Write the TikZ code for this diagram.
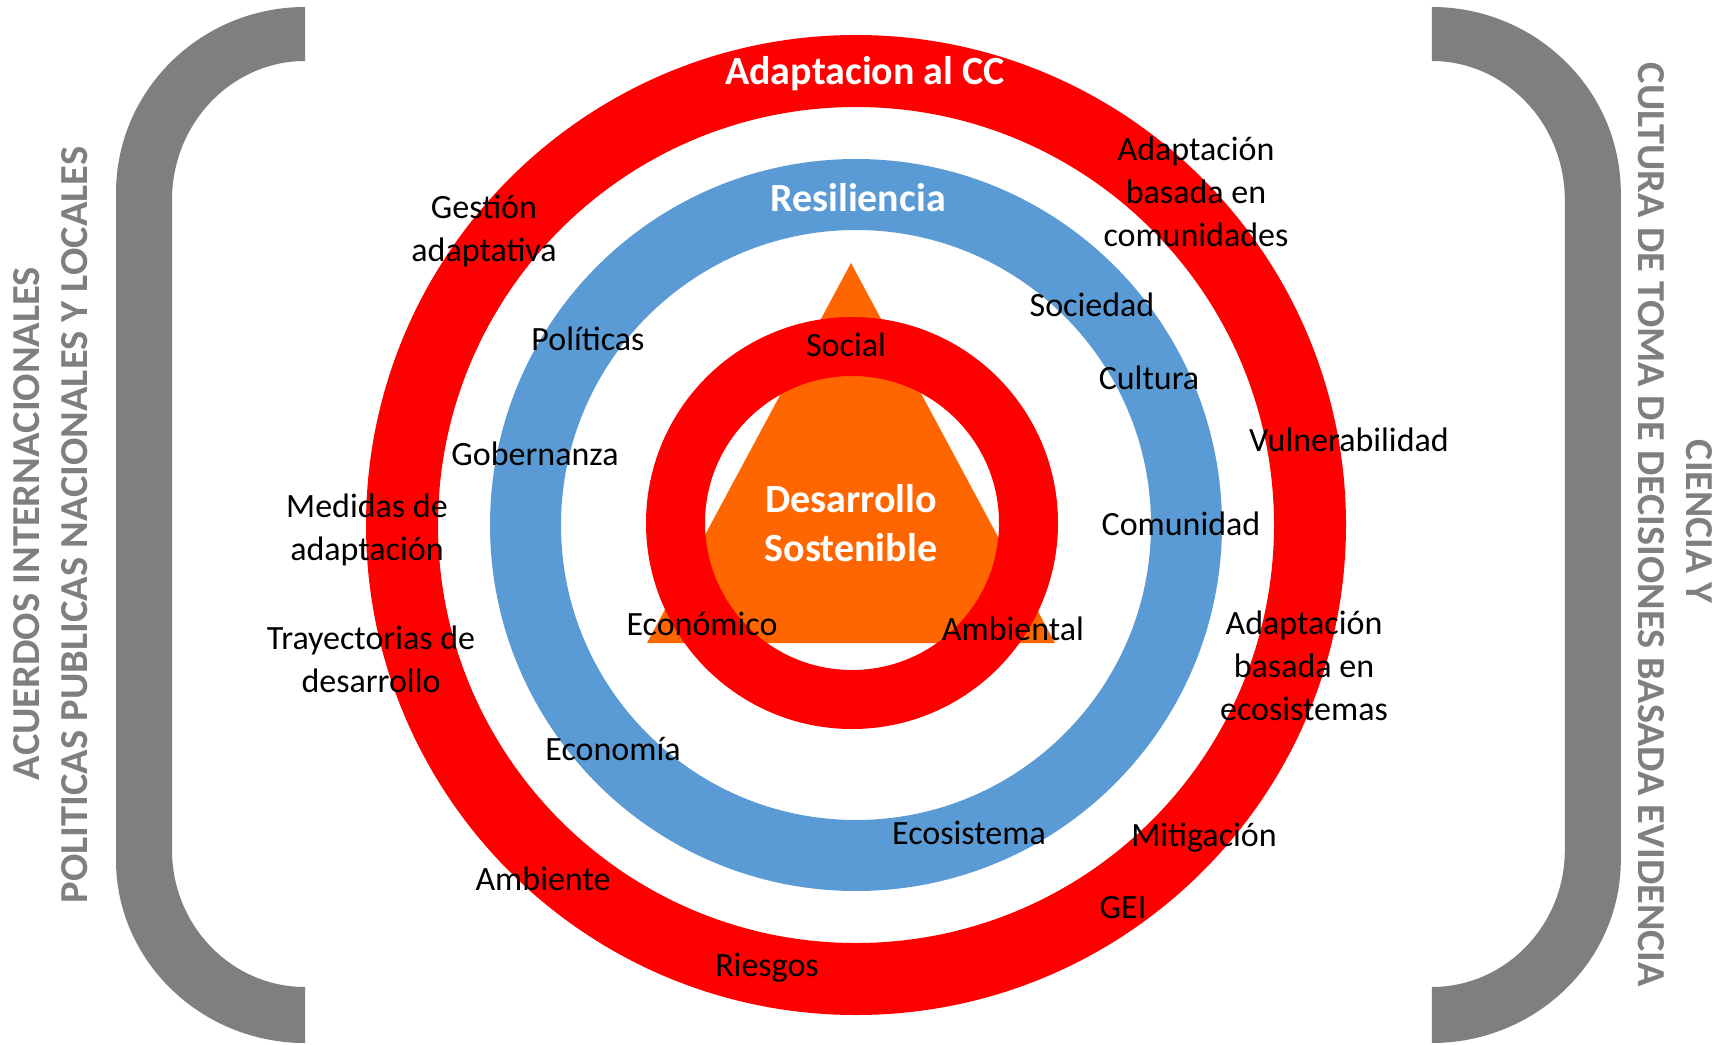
\documentclass[tikz,border=0pt]{standalone}
\usepackage{fontspec}
\setmainfont{Carlito}
\usepackage{graphicx}

\definecolor{ringred}{HTML}{FF0000}
\definecolor{ringblue}{HTML}{5B9BD5}
\definecolor{triorange}{HTML}{FF6600}
\definecolor{bracegrey}{HTML}{7F7F7F}

\tikzset{
	lbl/.style={align=center, inner sep=0pt, font=\fontsize{34}{43}\selectfont},
	ringtitle/.style={align=center, inner sep=0pt, text=white, font=\fontsize{40}{48.5}\selectfont\bfseries},
	sidetext/.style={align=center, inner sep=0pt, text=bracegrey, font=\bfseries},
}

\begin{document}
\begin{tikzpicture}[x=1pt,y=-1pt]
		\useasboundingbox (0,0) rectangle (1729,1044);
		\fill[white] (0,0) rectangle (1729,1044);

		%brackets
		\fill[bracegrey] (305,7) .. controls (201,7) and (116,90) .. (116,193) -- (116,860) .. controls (116,961) and (201,1043) .. (305,1043) -- (305,987) .. controls (232,987) and (172,926) .. (172,850) -- (172,200) .. controls (172,123) and (232,61) .. (305,61) -- cycle;
		\begin{scope}[xshift=1736.8pt,xscale=-1]
		\fill[bracegrey] (305,7) .. controls (201,7) and (116,90) .. (116,193) -- (116,860) .. controls (116,961) and (201,1043) .. (305,1043) -- (305,987) .. controls (232,987) and (172,926) .. (172,850) -- (172,200) .. controls (172,123) and (232,61) .. (305,61) -- cycle;
		\end{scope}

		%rings and triangle
		\coordinate (c) at (856,525);
		\coordinate (ci) at (852,523);
		\draw[ringred, line width=72pt] (c) circle (454);
		\draw[ringblue, line width=71pt] (c) circle (330.5);
		\fill[triorange] (851,263) -- (647,643) -- (1055,643) -- cycle;
		\draw[ringred, line width=59pt] (ci) circle (176.5);

		%ring titles
		\node[ringtitle] (adapcc) at (865,74) {Adaptacion al CC};
		\node[ringtitle] (resil) at (858,198) {Resiliencia};
		\node[ringtitle] (desarrollo) at (851,523) {Desarrollo\\Sostenible};

		%labels
		\node[lbl] (gestion) at (484,231) {Gestión\\adaptativa};
		\node[lbl] (abcom) at (1196,192) {Adaptación\\basada en\\comunidades};
		\node[lbl] (sociedad) at (1092,305) {Sociedad};
		\node[lbl] (politicas) at (588,339) {Políticas};
		\node[lbl] (social) at (846,345) {Social};
		\node[lbl] (cultura) at (1149,378) {Cultura};
		\node[lbl] (vulner) at (1349,440) {Vulnerabilidad};
		\node[lbl] (gobern) at (535,454) {Gobernanza};
		\node[lbl] (medidas) at (367,530) {Medidas de\\adaptación};
		\node[lbl] (comunidad) at (1181,524) {Comunidad};
		\node[lbl] (trayect) at (371,659) {Trayectorias de\\desarrollo};
		\node[lbl] (economico) at (702,624) {Económico};
		\node[lbl] (ambiental) at (1013,629) {Ambiental};
		\node[lbl] (abeco) at (1304,666) {Adaptación\\basada en\\ecosistemas};
		\node[lbl] (economia) at (613,749) {Economía};
		\node[lbl] (ecosist) at (969,833) {Ecosistema};
		\node[lbl] (mitig) at (1204,838) {Mitigación};
		\node[lbl] (ambiente) at (543,879) {Ambiente};
		\node[lbl] (gei) at (1123,908) {GEI};
		\node[lbl] (riesgos) at (767,968) {Riesgos};

		%side texts
		\node[sidetext, rotate=90] (acuerdos) at (27,523.5) {\resizebox{513pt}{26pt}{ACUERDOS INTERNACIONALES}};
		\node[sidetext, rotate=90] (politpub) at (74.5,525) {\resizebox{756pt}{26pt}{POLITICAS PUBLICAS NACIONALES Y LOCALES}};
		\node[sidetext, rotate=-90] (ciencia) at (1699,521.5) {\resizebox{163pt}{26pt}{CIENCIA Y}};
		\node[sidetext, rotate=-90] (cultdec) at (1651.5,525) {\resizebox{924pt}{26pt}{CULTURA DE TOMA DE DECISIONES BASADA EVIDENCIA}};
\end{tikzpicture}
\end{document}
